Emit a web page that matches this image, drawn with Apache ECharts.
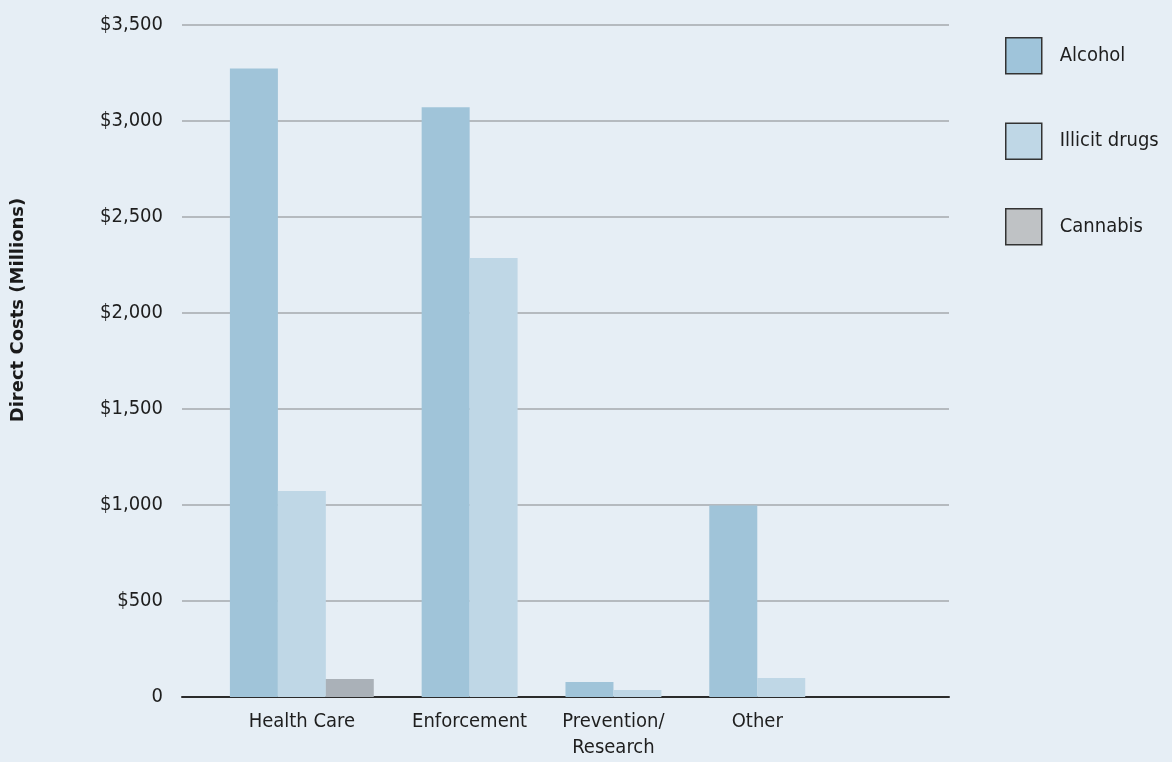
<!DOCTYPE html>
<html>
<head>
<meta charset="utf-8">
<title>Direct Costs</title>
<script src="https://cdn.jsdelivr.net/npm/echarts@6/dist/echarts.min.js"></script>
<style>
  html, body { margin: 0; padding: 0; background: #e6eef5; }
  #chart { width: 1172px; height: 762px; }
</style>
</head>
<body>
<div id="chart"></div>
<script>
// Cost categories and direct costs in millions of dollars
const categories = ['Health Care', 'Enforcement', 'Prevention/\nResearch', 'Other'];
const alcohol = [3273, 3071, 78, 998];
const illicitDrugs = [1073, 2286, 36, 99];
const cannabis = [94, 0, 0, 0];

const seriesNames = ['Alcohol', 'Illicit drugs', 'Cannabis'];
const seriesValues = [alcohol, illicitDrugs, cannabis];
const barColors = ['#a0c4d9', '#bfd7e6', '#aab1b8'];
const swatchColors = ['#9fc4da', '#bfd7e6', '#bfc2c5'];

// Bars are packed into equal slots: empty values take no slot,
// and one empty slot separates neighbouring categories.
const slotData = seriesNames.map(() => []);
const groupCenters = [];
let slot = 1;
categories.forEach((cat, i) => {
  const start = slot;
  seriesValues.forEach((vals, s) => {
    if (vals[i] > 0) {
      slotData[s].push([slot + 0.5, vals[i]]);
      slot += 1;
    }
  });
  groupCenters.push((start + slot) / 2);
  slot += 1;
});
const slotCount = slot + 2;

const font = '"Liberation Sans Narrow", "DejaVu Sans Condensed", "Liberation Sans", sans-serif';

const chart = echarts.init(document.getElementById('chart'));
chart.setOption({
  backgroundColor: '#e6eef5',
  animation: false,
  grid: { left: 182, right: 223, top: 25, bottom: 65, containLabel: false },
  legend: {
    orient: 'vertical',
    left: 1005,
    top: 37,
    padding: 0,
    itemWidth: 36,
    itemHeight: 36,
    itemGap: 48,
    icon: 'rect',
    selectedMode: false,
    textStyle: { fontFamily: font, fontSize: 20, color: '#1e1e1e', padding: [0, 0, 4, 13] },
    data: seriesNames.map((name, s) => ({
      name,
      itemStyle: { color: swatchColors[s], borderColor: '#333', borderWidth: 1.5 }
    }))
  },
  xAxis: {
    type: 'value',
    min: 0,
    max: slotCount,
    interval: 0.5,
    splitLine: { show: false },
    axisTick: { show: false },
    axisLine: { show: true, lineStyle: { color: '#2b2b2b', width: 2 } },
    axisLabel: {
      margin: 12,
      fontFamily: font,
      fontSize: 20,
      lineHeight: 26,
      color: '#1e1e1e',
      verticalAlign: 'top',
      showMinLabel: false,
      showMaxLabel: false,
      formatter: (v) => {
        const idx = groupCenters.findIndex(c => Math.abs(c - v) < 1e-6);
        return idx >= 0 ? categories[idx] : '';
      }
    }
  },
  yAxis: {
    type: 'value',
    min: 0,
    max: 3500,
    interval: 500,
    axisLine: { show: false },
    axisTick: { show: false },
    splitLine: { lineStyle: { color: '#a5a9ac', width: 1.5 } },
    axisLabel: {
      margin: 19,
      fontFamily: font,
      fontSize: 20,
      color: '#1e1e1e',
      formatter: (v) => v === 0 ? '0' : '$' + v.toLocaleString('en-US')
    }
  },
  graphic: [{
    type: 'text',
    x: 18,
    y: 310,
    rotation: Math.PI / 2,
    style: {
      text: 'Direct Costs (Millions)',
      fontFamily: '"DejaVu Sans", sans-serif',
      fontWeight: 'bold',
      fontSize: 18,
      fill: '#1a1a1a',
      textAlign: 'center',
      textVerticalAlign: 'middle'
    }
  }],
  series: seriesNames.map((name, s) => ({
    name,
    type: 'bar',
    barWidth: 48,
    barGap: '-100%',
    itemStyle: { color: barColors[s] },
    data: slotData[s]
  }))
});
</script>
</body>
</html>
